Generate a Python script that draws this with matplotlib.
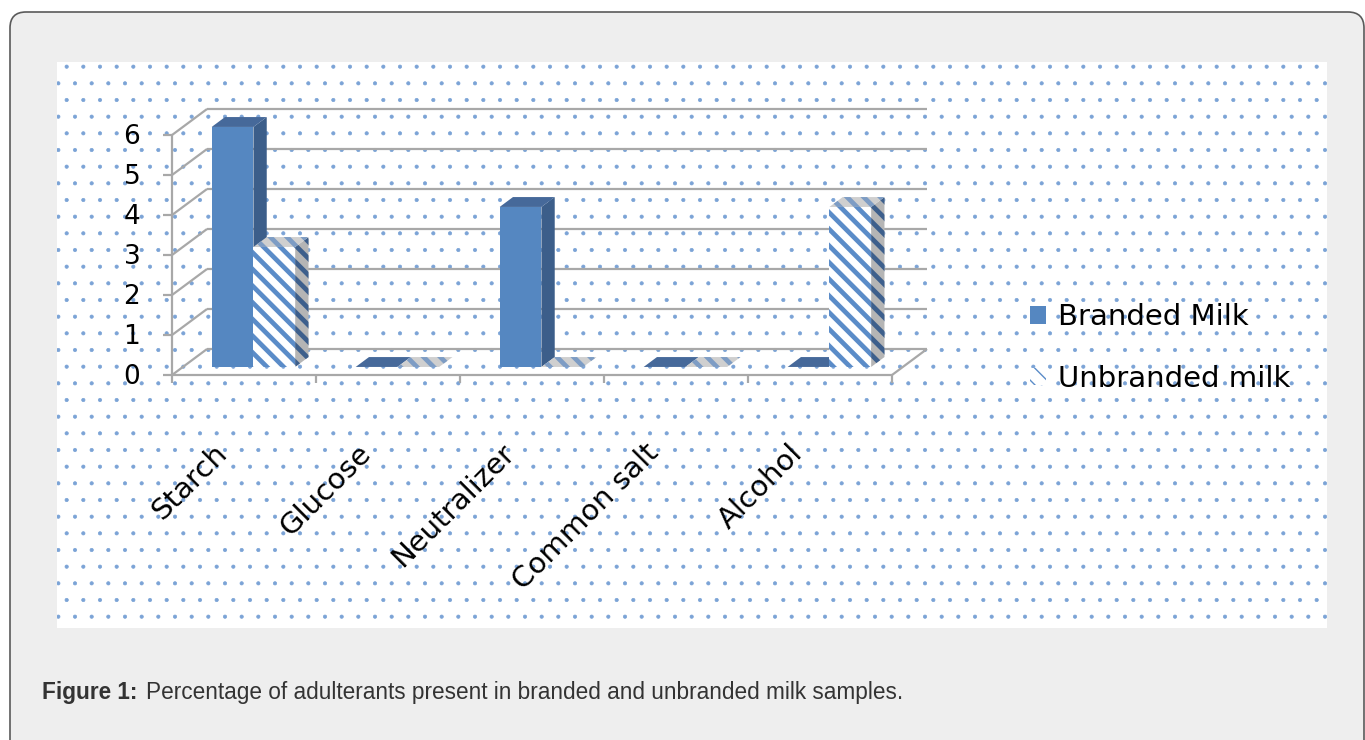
import matplotlib
matplotlib.use("Agg")
import matplotlib.pyplot as plt
from matplotlib.patches import Polygon, Rectangle, FancyBboxPatch, Patch

# data
categories = ["Starch", "Glucose", "Neutralizer", "Common salt", "Alcohol"]
branded = [6, 0, 4, 0, 0]
unbranded = [3, 0, 0, 0, 4]
series_names = ["Branded Milk", "Unbranded milk"]
y_ticks = [0, 1, 2, 3, 4, 5, 6]
caption_bold = "Figure 1:"
caption_text = "Percentage of adulterants present in branded and unbranded milk samples."

# colours
blue_front = "#5587c1"
blue_side = "#3c5e8a"
blue_top = "#46699a"
stripe_blue = "#5b8cc8"
grid_grey = "#a8a8a8"
dot_blue = "#7ba3d6"
STRIPES = "\\\\"
STRIPE_LW = 3.4

# pseudo 3d geometry (data units)
DX, DY = 0.243, 0.65      # depth of the floor / walls
F0, BD = 0.31, 0.38       # bar front position and bar depth as fraction of DX, DY
BAR_W = 0.29
BAR_START = 0.2

W, H = 1365, 740
fig = plt.figure(figsize=(W / 100, H / 100), dpi=100)
fig.patch.set_facecolor("white")

# rounded grey frame
frame = FancyBboxPatch((10, -30), 1354, 758, boxstyle="round,pad=0,rounding_size=16",
                       transform=None, facecolor="#eeeeee", edgecolor="#5a5a5a",
                       linewidth=1.2, zorder=-10)
fig.patches.append(frame)

ax = fig.add_axes([57 / W, 1 - 628 / H, 1270 / W, 566 / H])
ax.set_zorder(1)
ax.set_xlim(-0.799, 8.021)
ax.set_ylim(-6.325, 7.825)
ax.axis("off")

bg = Rectangle((0, 0), 1, 1, transform=ax.transAxes, facecolor="white",
               edgecolor=dot_blue, linewidth=0, hatch=".", zorder=0)
if hasattr(bg, "set_hatch_linewidth"):
    bg.set_hatch_linewidth(0.5)
ax.add_patch(bg)

n = len(categories)
line_kw = dict(color=grid_grey, linewidth=1.6, zorder=1, solid_capstyle="butt")

# back wall gridlines and left wall diagonals
for k in y_ticks:
    ax.plot([DX, n + DX], [k + DY, k + DY], **line_kw)
    ax.plot([0, DX], [k, k + DY], **line_kw)
    ax.plot([-0.065, 0], [k, k], **line_kw)
    ax.text(-0.22, k - 0.06, str(k), ha="right", va="center", fontsize=19, color="black")

# front y axis and floor
ax.plot([0, 0], [0, max(y_ticks)], **line_kw)
ax.plot([0, n], [0, 0], **line_kw)
ax.plot([n, n + DX], [0, DY], **line_kw)
for i in range(n + 1):
    ax.plot([i, i], [0, -0.2], **line_kw)

for i, cat in enumerate(categories):
    ax.text(i + 0.42, -1.6, cat, rotation=45, rotation_mode="default",
            ha="right", va="top", fontsize=21, color="black")


def draw_bar(x0, value, front, side, top, hatch=None, hatch_face=None, z=3):
    a = x0 + F0 * DX
    b = F0 * DY
    ddx, ddy = BD * DX, BD * DY
    faces = [
        ([(a, b), (a + BAR_W, b), (a + BAR_W, b + value), (a, b + value)], front),
        ([(a + BAR_W, b), (a + BAR_W + ddx, b + ddy), (a + BAR_W + ddx, b + value + ddy),
          (a + BAR_W, b + value)], side),
        ([(a, b + value), (a + BAR_W, b + value), (a + BAR_W + ddx, b + value + ddy),
          (a + ddx, b + value + ddy)], top),
    ]
    for pts, col in faces:
        if hatch is None:
            p = Polygon(pts, closed=True, facecolor=col, edgecolor="none", zorder=z)
        else:
            p = Polygon(pts, closed=True, facecolor=hatch_face[col], edgecolor=col,
                        linewidth=0, hatch=hatch, zorder=z)
            if hasattr(p, "set_hatch_linewidth"):
                p.set_hatch_linewidth(STRIPE_LW)
        ax.add_patch(p)


for i in range(n):
    draw_bar(i + BAR_START, branded[i], blue_front, blue_side, blue_top, z=3)
    draw_bar(i + BAR_START + BAR_W, unbranded[i], stripe_blue, "#3d5f8c", "#7d9cc4",
             hatch=STRIPES, hatch_face={stripe_blue: "white", "#3d5f8c": "#b5b5b5",
                                        "#7d9cc4": "#cfcfcf"}, z=4)

h1 = Patch(facecolor=blue_front, edgecolor="none")
h2 = Patch(facecolor="white", edgecolor=stripe_blue, linewidth=0, hatch=STRIPES)
if hasattr(h2, "set_hatch_linewidth"):
    h2.set_hatch_linewidth(STRIPE_LW)
leg = ax.legend([h1, h2], series_names, loc="center left",
                bbox_to_anchor=((1030 - 57) / 1270, (628 - 348) / 566),
                frameon=False, fontsize=21, borderpad=0, borderaxespad=0,
                handlelength=0.55, handleheight=0.55, handletextpad=0.4,
                labelspacing=1.15)

# caption
fig.text(42 / W, 1 - 699 / H, caption_bold, fontsize=16.3, fontweight="bold",
         family="Liberation Sans", color="#333333", va="baseline")
fig.text(146 / W, 1 - 699 / H, caption_text, fontsize=16.3,
         family="Liberation Sans", color="#333333", va="baseline")

fig.savefig("out.png", dpi=100)
